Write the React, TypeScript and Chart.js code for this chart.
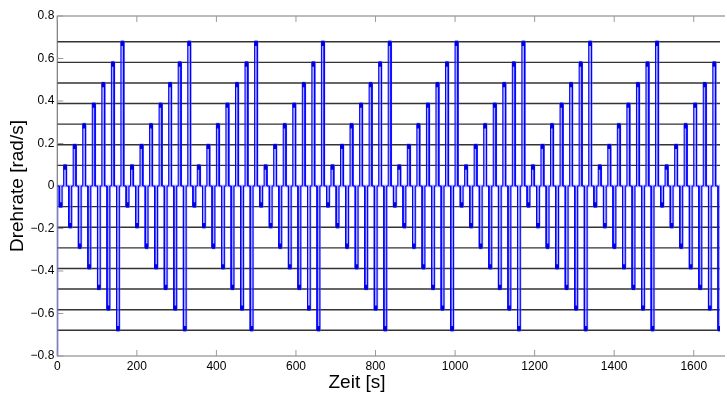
import React, { useEffect, useRef } from "react";
import { Chart, registerables } from "chart.js";

Chart.register(...registerables);

// ---- data ----
const xTicks = [0, 200, 400, 600, 800, 1000, 1200, 1400, 1600];
const yTicks = [-0.8, -0.6, -0.4, -0.2, 0, 0.2, 0.4, 0.6, 0.8];
const xMin = 0;
const xMax = 1666;
const yMin = -0.8;
const yMax = 0.8;

// levels of the horizontal reference lines (rad/s)
const levels = [0.097, 0.194, 0.291, 0.388, 0.485, 0.582, 0.679];

// start time of each repetition of the pulse sequence (s)
const cycleStarts = [0, 168, 336, 504, 672, 840, 1008, 1176, 1344, 1512];
// start of each pulse inside one repetition (s) and its amplitude (rad/s)
const pulseStarts = [5, 16, 29, 40, 53, 64, 77, 88, 101, 112, 125, 136, 149, 160];
const pulseLevels = [
  -0.097, 0.097, -0.194, 0.194, -0.291, 0.291, -0.388, 0.388,
  -0.485, 0.485, -0.582, 0.582, -0.679, 0.679,
];
const pulseWidth = 7; // s, commanded pulse
const measuredDelay = 2; // s
const measuredWidth = 4.5; // s, measured pulse
const measuredStartValue = -0.8;

const FONT = '"Liberation Sans", Arial, Helvetica, sans-serif';

type P = { x: number; y: number };

function buildCommand(): P[] {
  const pts: P[] = [{ x: 0, y: 0 }];
  cycleStarts.forEach((c) => {
    pulseStarts.forEach((s, i) => {
      const t = c + s;
      const v = pulseLevels[i];
      pts.push({ x: t, y: 0 }, { x: t, y: v }, { x: t + pulseWidth, y: v }, { x: t + pulseWidth, y: 0 });
    });
  });
  pts.push({ x: xMax + 20, y: 0 });
  return pts;
}

function buildMeasured(): P[] {
  const pts: P[] = [{ x: 0, y: measuredStartValue }, { x: 0, y: 0 }];
  cycleStarts.forEach((c) => {
    pulseStarts.forEach((s, i) => {
      const t = c + s + measuredDelay;
      const v = pulseLevels[i];
      pts.push({ x: t, y: 0 }, { x: t, y: v }, { x: t + measuredWidth, y: v }, { x: t + measuredWidth, y: 0 });
    });
  });
  pts.push({ x: xMax + 20, y: 0 });
  return pts;
}

function buildMarkers(): P[] {
  const pts: P[] = [];
  cycleStarts.forEach((c) => {
    pulseStarts.forEach((s, i) => {
      const v = pulseLevels[i];
      pts.push({ x: c + s + pulseWidth / 2, y: v - Math.sign(v) * 0.008 });
    });
  });
  return pts;
}

const framePlugin = {
  id: "matlabFrame",
  beforeDatasetsDraw(chart: any) {
    const { ctx, chartArea: a, scales } = chart;
    ctx.save();
    ctx.strokeStyle = "#7a7a7a";
    ctx.lineWidth = 1.2;
    ctx.beginPath();
    ctx.moveTo(a.right + 5, a.top);
    ctx.lineTo(a.left, a.top);
    ctx.lineTo(a.left, a.bottom);
    ctx.lineTo(a.right + 5, a.bottom);
    ctx.stroke();
    ctx.strokeStyle = "#9a9a9a";
    ctx.lineWidth = 1;
    ctx.beginPath();
    xTicks.forEach((v) => {
      const px = scales.x.getPixelForValue(v);
      ctx.moveTo(px, a.bottom);
      ctx.lineTo(px, a.bottom - 6);
      ctx.moveTo(px, a.top);
      ctx.lineTo(px, a.top + 6);
    });
    yTicks.forEach((v) => {
      const py = scales.y.getPixelForValue(v);
      ctx.moveTo(a.left, py);
      ctx.lineTo(a.left + 6, py);
    });
    ctx.stroke();
    ctx.restore();
  },
  afterDraw(chart: any) {
    const { ctx, chartArea: a } = chart;
    ctx.save();
    ctx.fillStyle = "#000";
    ctx.font = `19px ${FONT}`;
    ctx.textAlign = "center";
    ctx.textBaseline = "middle";
    ctx.fillText("Zeit [s]", 357, a.bottom + 27);
    ctx.restore();
  },
};

export default function App() {
  const canvasRef = useRef<HTMLCanvasElement | null>(null);

  useEffect(() => {
    const canvas = canvasRef.current;
    if (!canvas) return;

    const levelSets = [...levels, ...levels.map((l) => -l)].map((l) => ({
      type: "line" as const,
      label: `Stufe ${l}`,
      data: [
        { x: xMin, y: l },
        { x: xMax + 20, y: l },
      ],
      borderColor: "#333333",
      borderWidth: 1.4,
      pointRadius: 0,
      tension: 0,
    }));

    const chart = new Chart(canvas, {
      type: "line",
      data: {
        datasets: [
          {
            label: "Marker",
            data: buildMarkers(),
            showLine: false,
            pointStyle: "line",
            rotation: 90,
            pointRadius: 2.6,
            pointBorderWidth: 3,
            borderColor: "#0000dd",
            backgroundColor: "#0000dd",
          } as any,
          {
            label: "Soll",
            data: buildCommand(),
            borderColor: "#0000ff",
            borderWidth: 1,
            pointRadius: 0,
            tension: 0,
          },
          {
            label: "Ist",
            data: buildMeasured(),
            borderColor: "rgba(110,110,255,0.6)",
            borderWidth: 2.6,
            pointRadius: 0,
            tension: 0,
          },
          ...levelSets,
        ],
      },
      options: {
        animation: false,
        responsive: false,
        devicePixelRatio: 1,
        layout: { padding: { top: 16, left: 0, right: 0, bottom: 0 } },
        plugins: {
          legend: { display: false },
          tooltip: { enabled: false },
        },
        scales: {
          x: {
            type: "linear",
            min: xMin,
            max: xMax,
            grid: { display: false, drawTicks: false, tickLength: 0 },
            border: { display: false },
            afterBuildTicks: (s: any) => {
              s.ticks = xTicks.map((v) => ({ value: v }));
            },
            afterFit: (s: any) => {
              s.height = 38;
            },
            ticks: {
              padding: 3,
              autoSkip: false,
              maxRotation: 0,
              color: "#000",
              font: { family: FONT, size: 12 },
              callback: (v: any) => String(v),
            },
          },
          y: {
            type: "linear",
            min: yMin,
            max: yMax,
            grid: { display: false, drawTicks: false, tickLength: 0 },
            border: { display: false },
            afterBuildTicks: (s: any) => {
              s.ticks = yTicks.map((v) => ({ value: v }));
            },
            afterFit: (s: any) => {
              s.width = 57.3;
            },
            ticks: {
              padding: 3,
              autoSkip: false,
              color: "#000",
              font: { family: FONT, size: 12 },
              callback: (v: any) => {
                const n = Number(v);
                if (Math.abs(n) < 1e-9) return "0";
                return (n < 0 ? "\u2212" : "") + Math.abs(n).toFixed(1);
              },
            },
            title: {
              display: true,
              text: "Drehrate [rad/s]",
              color: "#000",
              font: { family: FONT, size: 19 },
              padding: { top: 6, bottom: 0 },
            },
          },
        },
      },
      plugins: [framePlugin],
    });

    return () => chart.destroy();
  }, []);

  return (
    <div style={{ position: "fixed", left: 0, top: 0, width: 727, height: 394, background: "#fff" }}>
      <canvas ref={canvasRef} width={727} height={394} style={{ display: "block" }} />
    </div>
  );
}
